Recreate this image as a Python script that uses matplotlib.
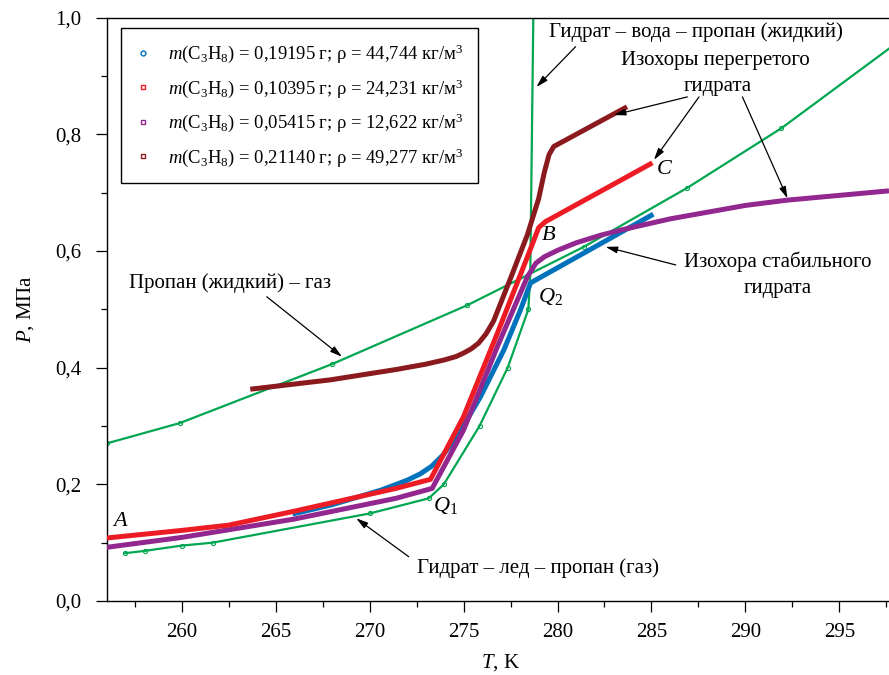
import matplotlib
matplotlib.use('Agg')
import matplotlib.pyplot as plt
from matplotlib.lines import Line2D
from matplotlib.ticker import MultipleLocator, FuncFormatter

plt.rcParams['font.family'] = ['Liberation Serif', 'DejaVu Serif']
plt.rcParams['mathtext.fontset'] = 'custom'
plt.rcParams['mathtext.rm'] = 'Liberation Serif'
plt.rcParams['mathtext.it'] = 'Liberation Serif:italic'

# пропан: жидкость - газ
T_vap = [256.0, 259.9, 268.0, 275.2, 281.4, 286.9, 291.9, 298.2]
P_vap = [0.270, 0.305, 0.406, 0.507, 0.607, 0.708, 0.810, 0.960]

# гидрат - лед - газ, гидрат - вода - газ, гидрат - вода - жидкий пропан
T_hyd = [257.0, 258.05, 260.0, 261.65, 270.0, 273.15, 273.95, 275.85, 277.35, 278.45, 278.55, 278.72]
P_hyd = [0.082, 0.086, 0.095, 0.100, 0.150, 0.176, 0.200, 0.300, 0.400, 0.500, 0.560, 1.02]

# изохоры
T_blue = [265.9, 268.0, 270.6, 272.0, 272.7, 273.3, 273.9, 274.66, 275.9, 277.14, 278.03, 278.56, 278.83, 285.1]
P_blue = [0.149, 0.165, 0.190, 0.207, 0.218, 0.231, 0.250, 0.282, 0.350, 0.430, 0.499, 0.545, 0.550, 0.663]

T_red = [256.0, 260.0, 262.5, 266.0, 269.6, 271.4, 273.24, 275.0, 276.8, 278.4, 279.0, 279.35, 285.05]
P_red = [0.108, 0.121, 0.130, 0.154, 0.180, 0.193, 0.2085, 0.316, 0.459, 0.590, 0.640, 0.650, 0.751]

T_purple = [256.0, 260.0, 266.0, 271.4, 273.33, 275.0, 276.8, 278.4, 278.85, 279.3, 280.0, 281.0, 282.3,
            283.4, 286.0, 290.0, 292.2, 297.64]
P_purple = [0.092, 0.109, 0.1405, 0.176, 0.193, 0.293, 0.436, 0.556, 0.579, 0.590, 0.601, 0.614, 0.627,
            0.636, 0.655, 0.678, 0.687, 0.703]

T_maroon = [263.65, 267.9, 271.45, 273.0, 273.95, 274.6, 275.0, 275.4, 275.8, 276.2, 276.6, 277.5, 278.4,
            279.0, 279.3, 279.55, 279.8, 283.7]
P_maroon = [0.363, 0.379, 0.397, 0.406, 0.413, 0.419, 0.425, 0.432, 0.442, 0.458, 0.480, 0.553, 0.628,
            0.690, 0.735, 0.765, 0.779, 0.847]

labels = [r'$m$(C$_3$H$_8$) = 0,19195 г; ρ = 44,744 кг/м$^3$',
          r'$m$(C$_3$H$_8$) = 0,10395 г; ρ = 24,231 кг/м$^3$',
          r'$m$(C$_3$H$_8$) = 0,05415 г; ρ = 12,622 кг/м$^3$',
          r'$m$(C$_3$H$_8$) = 0,21140 г; ρ = 49,277 кг/м$^3$']

green = '#00a650'
blue = '#0072bc'
red = '#ed1c24'
purple = '#92278f'
maroon = '#8b1a1e'

fig = plt.figure(figsize=(8.89, 6.75), dpi=100)
ax = fig.add_axes([0.1198, 0.1096, 0.8802, 0.8644])

ax.plot(T_vap, P_vap, color=green, lw=1.6, marker='o', ms=3, mfc='none', mew=0.8, zorder=2)
ax.plot(T_hyd, P_hyd, color=green, lw=1.6, marker='o', ms=3, mfc='none', mew=0.8,
        markevery=list(range(10)), zorder=2)

ax.plot(T_blue, P_blue, color=blue, lw=3.6, solid_capstyle='butt', zorder=3)
ax.plot(T_purple, P_purple, color=purple, lw=3.6, solid_capstyle='butt', zorder=4)
ax.plot(T_red, P_red, color=red, lw=3.6, solid_capstyle='butt', zorder=5)
ax.plot(T_maroon, P_maroon, color=maroon, lw=3.6, solid_capstyle='butt', zorder=6)

ax.set_xlim(256, 297.64)
ax.set_ylim(0, 1.0)
ax.xaxis.set_major_locator(MultipleLocator(5))
ax.xaxis.set_minor_locator(MultipleLocator(2.5))
ax.yaxis.set_major_locator(MultipleLocator(0.2))
ax.yaxis.set_minor_locator(MultipleLocator(0.1))
ax.yaxis.set_major_formatter(FuncFormatter(lambda v, p: f'{v:.1f}'.replace('.', ',')))
ax.tick_params(which='major', direction='out', length=8, width=0.9, labelsize=15)
ax.tick_params(which='minor', direction='out', length=4.5, width=0.9)
ax.tick_params(axis='x', which='major', pad=8)
ax.tick_params(axis='y', which='major', pad=10)
ax.spines['right'].set_visible(False)
for s in ['left', 'bottom', 'top']:
    ax.spines[s].set_linewidth(1.0)

ax.set_xlabel(r'$T$, K', fontsize=15, va='center')
ax.set_ylabel(r'$P$, МПа', fontsize=15, va='center')
ax.xaxis.set_label_coords(0.503, -0.106)
ax.yaxis.set_label_coords(-0.103, 0.5)

handles = [
    Line2D([], [], ls='none', marker='o', ms=3.5, mfc='white', mec=blue, mew=1),
    Line2D([], [], ls='none', marker='s', ms=3.5, mfc='white', mec=red, mew=1),
    Line2D([], [], ls='none', marker='s', ms=3.5, mfc='white', mec=purple, mew=1),
    Line2D([], [], ls='none', marker='s', ms=3.5, mfc='white', mec=maroon, mew=1),
]
leg = ax.legend(handles, labels, loc='upper left', bbox_to_anchor=(0.018, 0.982),
                borderaxespad=0, fontsize=13.4, frameon=True, fancybox=False,
                edgecolor='black', framealpha=1, labelspacing=0.65,
                handlelength=0.86, handletextpad=0.9, borderpad=0.78)
leg.get_frame().set_linewidth(1.0)

arrow = dict(arrowstyle='-|>,head_length=0.7,head_width=0.2', color='black', lw=0.9,
             shrinkA=0, shrinkB=0)

def pointer(start, tip):
    ax.annotate('', xy=tip, xytext=start, arrowprops=arrow, zorder=7)

fs = 15
ax.text(279.57, 0.975, 'Гидрат – вода – пропан (жидкий)', fontsize=fs, ha='left', va='center')
pointer((280.96, 0.950), (278.88, 0.881))

ax.text(288.42, 0.927, 'Изохоры перегретого', fontsize=fs, ha='center', va='center')
ax.text(288.52, 0.881, 'гидрата', fontsize=fs, ha='center', va='center')
pointer((286.91, 0.864), (283.0, 0.833))
pointer((287.53, 0.864), (285.13, 0.756))
pointer((289.84, 0.864), (292.24, 0.690))

ax.text(286.71, 0.581, 'Изохора стабильного', fontsize=fs, ha='left', va='center')
ax.text(291.72, 0.535, 'гидрата', fontsize=fs, ha='center', va='center')
pointer((286.29, 0.576), (282.56, 0.607))

ax.text(257.2, 0.545, 'Пропан (жидкий) – газ', fontsize=fs, ha='left', va='center')
pointer((264.53, 0.5215), (268.53, 0.4187))

ax.text(272.54, 0.057, 'Гидрат – лед – пропан (газ)', fontsize=fs, ha='left', va='center')
pointer((272.08, 0.076), (269.29, 0.1417))

ax.text(256.72, 0.136, r'$A$', fontsize=16, ha='center', va='center')
ax.text(279.54, 0.627, r'$B$', fontsize=16, ha='center', va='center')
ax.text(285.7, 0.739, r'$C$', fontsize=16, ha='center', va='center')
ax.text(274.03, 0.1645, r'$Q_{\mathrm{1}}$', fontsize=16, ha='center', va='center')
ax.text(279.63, 0.5215, r'$Q_{\mathrm{2}}$', fontsize=16, ha='center', va='center')

fig.savefig('out.png', dpi=100)
